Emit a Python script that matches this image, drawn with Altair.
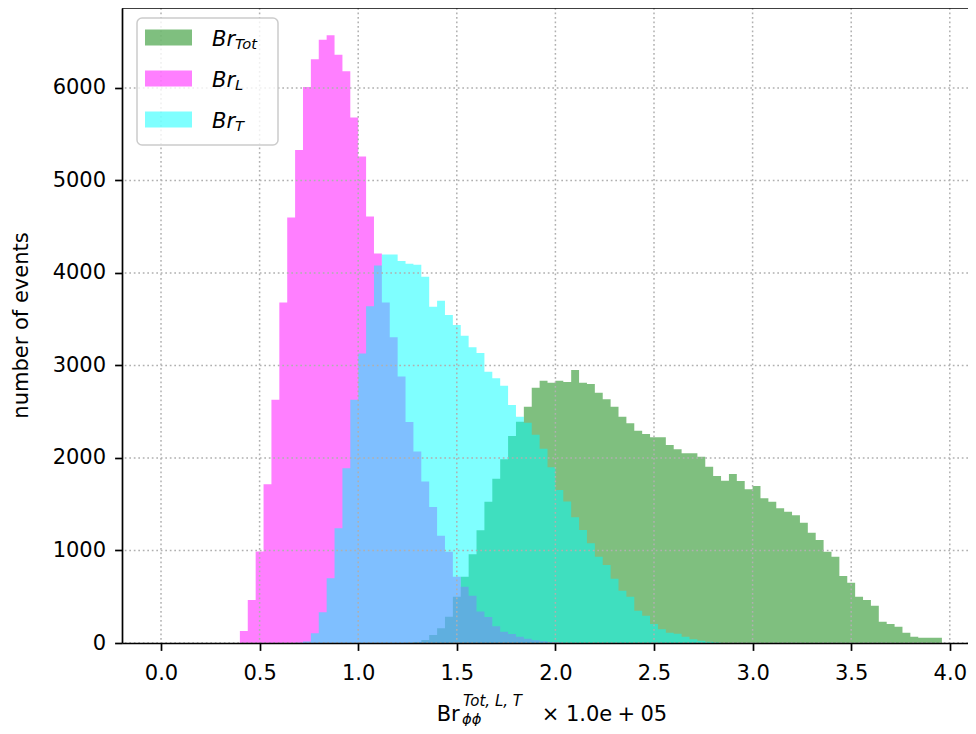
import altair as alt
import pandas as pd

# ---------------- data ----------------
BIN_WIDTH = 0.04

TOT_START = 31
TOT_COUNTS = [3, 12, 32, 86, 160, 285, 500, 717, 960, 1220,
              1527, 1775, 1985, 2238, 2392, 2554, 2760, 2836, 2814, 2836,
              2820, 2951, 2814, 2800, 2706, 2634, 2554, 2446, 2375, 2295,
              2259, 2224, 2224, 2140, 2094, 2051, 2051, 2014, 1906, 1805,
              1754, 1827, 1751, 1661, 1697, 1564, 1527, 1456, 1419, 1380,
              1300, 1192, 1113, 987, 933, 724, 652, 500, 465, 403,
              230, 205, 176, 111, 68, 57, 57, 57]

L_START = 10
L_COUNTS = [130, 465, 990, 1715, 2630, 3680, 4600, 5330, 6010, 6310,
            6520, 6570, 6360, 6180, 5680, 5260, 4610, 4210, 3680, 3305,
            2880, 2390, 2070, 1745, 1470, 1160, 987, 717, 609, 510,
            340, 280, 180, 122, 97, 68, 45, 30, 20, 10, 5]

T_START = 17
T_COUNTS = [3, 15, 105, 332, 700, 1240, 1890, 2630, 3130, 3640,
            4080, 4200, 4200, 4130, 4100, 4090, 3960, 3635, 3700, 3546,
            3438, 3320, 3197, 3135, 2933, 2861, 2780, 2573, 2446, 2381,
            2250, 2100, 1900, 1654, 1530, 1359, 1222, 1078, 933, 843,
            695, 565, 500, 349, 295, 205, 148, 110, 100, 68,
            40, 25, 14, 5]

SERIES_NAMES = ["Tot", "L", "T"]
SERIES_COLORS = ["#008000", "#ff00ff", "#00ffff"]

X_TICKS = [0.0, 0.5, 1.0, 1.5, 2.0, 2.5, 3.0, 3.5, 4.0]
Y_TICKS = [0, 1000, 2000, 3000, 4000, 5000, 6000]

# ---------------- layout ----------------
W, H = 846, 635
X_DOMAIN = [-0.1978, 4.0923]
Y_DOMAIN = [0, 6864]
FONT = "DejaVu Sans"
FS = 21
SUB_FS = 14.7


def step_frame(name, start, counts):
    rows = []
    for i, c in enumerate(counts):
        rows.append({"series": name, "x": (start + i) * BIN_WIDTH, "count": c})
    rows.append({"series": name, "x": (start + len(counts)) * BIN_WIDTH, "count": 0})
    return pd.DataFrame(rows)


xs = alt.Scale(domain=X_DOMAIN, nice=False, zero=False)
ys = alt.Scale(domain=Y_DOMAIN, nice=False, zero=True)

x_axis = alt.Axis(values=X_TICKS, format=".1f", title=None, grid=False,
                  tickSize=7.4, tickWidth=1.7, tickColor="black",
                  domainColor="black", domainWidth=1.7,
                  labelFont=FONT, labelFontSize=FS, labelColor="black",
                  labelPadding=12, labelFlush=False, labelOverlap=False, zindex=1)
y_axis = alt.Axis(values=Y_TICKS, format="d", grid=False,
                  title="number of events", titleFont=FONT, titleFontSize=FS,
                  titleFontWeight="normal", titleColor="black",
                  titleX=-101, titleY=317, titleAngle=270, titleBaseline="middle",
                  titleAlign="center",
                  tickSize=7.4, tickWidth=1.7, tickColor="black",
                  domainColor="black", domainWidth=1.7,
                  labelFont=FONT, labelFontSize=FS, labelColor="black",
                  labelPadding=9, labelFlush=False, labelOverlap=False, zindex=1)

dummy = pd.DataFrame({"d": [0]})
layers = []

# histograms (drawn in order Tot, L, T)
starts = [TOT_START, L_START, T_START]
counts_all = [TOT_COUNTS, L_COUNTS, T_COUNTS]
for name, st, cn, col in zip(SERIES_NAMES, starts, counts_all, SERIES_COLORS):
    df = step_frame(name, st, cn)
    layers.append(
        alt.Chart(df).mark_area(interpolate="step-after", color=col, opacity=0.5).encode(
            x=alt.X("x:Q", scale=xs, axis=x_axis),
            y=alt.Y("count:Q", scale=ys, axis=y_axis),
        )
    )

# dotted grid above the bars
grid_style = dict(color="#b0b0b0", strokeWidth=1.5, strokeDash=[1.7, 2.8])
layers.append(
    alt.Chart(pd.DataFrame({"v": X_TICKS})).mark_rule(**grid_style).encode(
        x=alt.X("v:Q", scale=xs, axis=x_axis))
)
layers.append(
    alt.Chart(pd.DataFrame({"v": Y_TICKS})).mark_rule(**grid_style).encode(
        y=alt.Y("v:Q", scale=ys, axis=y_axis))
)

# top spine
layers.append(
    alt.Chart(dummy).mark_rule(color="black", strokeWidth=1.7).encode(
        x=alt.value(0), x2=alt.value(W), y=alt.value(0))
)

# legend box
layers.append(
    alt.Chart(dummy).mark_rect(fill="white", fillOpacity=0.8, stroke="#cccccc",
                               strokeWidth=1.5, cornerRadius=5).encode(
        x=alt.value(15), x2=alt.value(156), y=alt.value(10), y2=alt.value(137))
)
for k, (name, col) in enumerate(zip(SERIES_NAMES, SERIES_COLORS)):
    c = 29.5 + 41 * k
    layers.append(
        alt.Chart(dummy).mark_rect(color=col, opacity=0.5).encode(
            x=alt.value(23), x2=alt.value(70), y=alt.value(c - 8), y2=alt.value(c + 8))
    )
    layers.append(
        alt.Chart(dummy).mark_text(text="Br", font=FONT, fontSize=FS, fontStyle="italic",
                                   align="left", baseline="alphabetic", color="black").encode(
            x=alt.value(90), y=alt.value(c + 8))
    )
    layers.append(
        alt.Chart(dummy).mark_text(text=name, font=FONT, fontSize=SUB_FS, fontStyle="italic",
                                   align="left", baseline="alphabetic", color="black").encode(
            x=alt.value(113), y=alt.value(c + 11))
    )

# x-axis title built from pieces (sub/superscripts)
title_parts = [
    ("Br", FS, "normal", 314.7, 713),
    ("Tot, L, T", 15, "italic", 341, 698),
    ("ϕϕ", SUB_FS, "italic", 340, 716),
    ("× 1.0e\u2005+\u200505", FS, "normal", 419.7, 713),
]
for txt, fs, style, px, py in title_parts:
    layers.append(
        alt.Chart(dummy).mark_text(text=txt, font=FONT, fontSize=fs, fontStyle=style,
                                   align="left", baseline="alphabetic", color="black").encode(
            x=alt.value(px), y=alt.value(py))
    )

chart = alt.layer(*layers).properties(
    width=W, height=H,
    padding={"left": 114, "top": 0, "right": 0, "bottom": 83},
    autosize=alt.AutoSizeParams(type="none"),
    background="white",
).configure_view(stroke=None)

chart.save("out.html", embed_options={"renderer": "svg", "actions": False})
